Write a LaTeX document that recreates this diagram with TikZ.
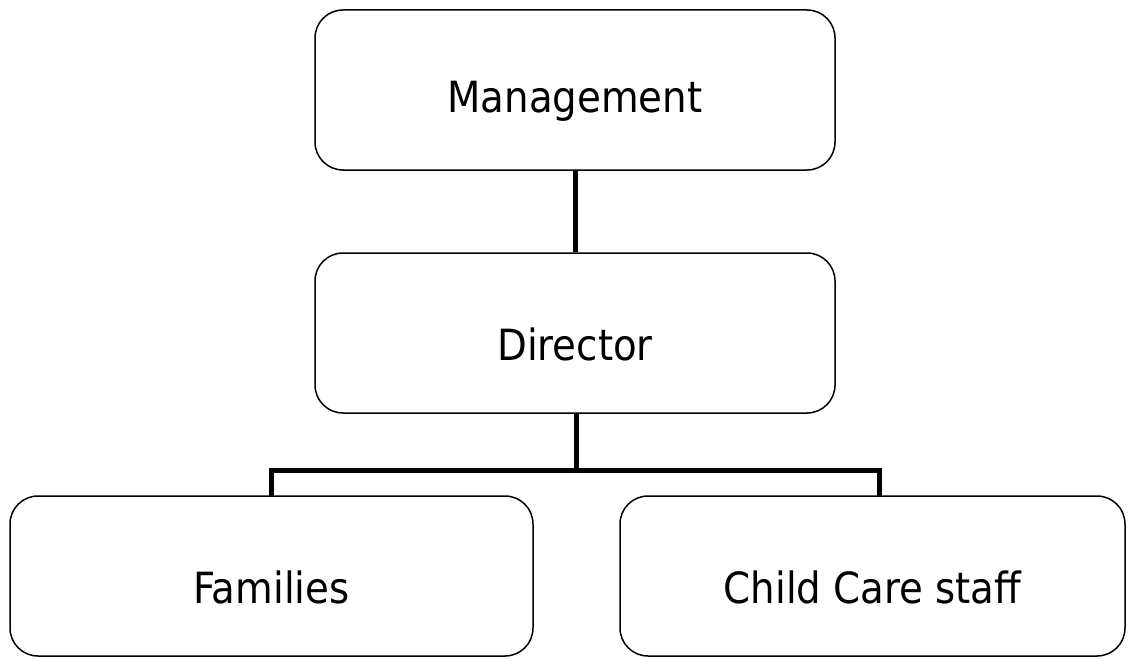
\documentclass[tikz,border=0pt]{standalone}
\usepackage{fontspec}
\setmainfont{DejaVu Sans Condensed}
\begin{document}
\begin{tikzpicture}[x=1pt,y=-1pt,
  box/.style={draw=black, line width=1.5pt, rounded corners=28pt, inner sep=0pt,
    minimum height=160pt},
  lbl/.style={inner sep=0pt, yshift=-11pt, font=\fontsize{43}{50}\selectfont},
  link/.style={line width=5pt}]
\useasboundingbox (0,0) rectangle (1131,658);
\node[box, minimum width=520pt] (man) at (575,90) {};
\node[box, minimum width=520pt] (dir) at (575,333) {};
\node[box, minimum width=523pt] (fam) at (271.5,576) {};
\node[box, minimum width=505pt] (ccs) at (872.5,576) {};
\node[lbl] (tman) at (man.center) {Management};
\node[lbl] (tdir) at (dir.center) {Director};
\node[lbl] (tfam) at (fam.center) {Families};
\node[lbl] (tccs) at (ccs.center) {Child Care staff};
\coordinate (j) at (576,470);
\draw[link] (man.south) -- (dir.north);
\draw[link] (dir.south -| j) -- (j);
\draw[link, line cap=rect] (271,470) -- (879,470);
\draw[link] (271,470) -- (271,496);
\draw[link] (879,470) -- (879,496);
\end{tikzpicture}
\end{document}
